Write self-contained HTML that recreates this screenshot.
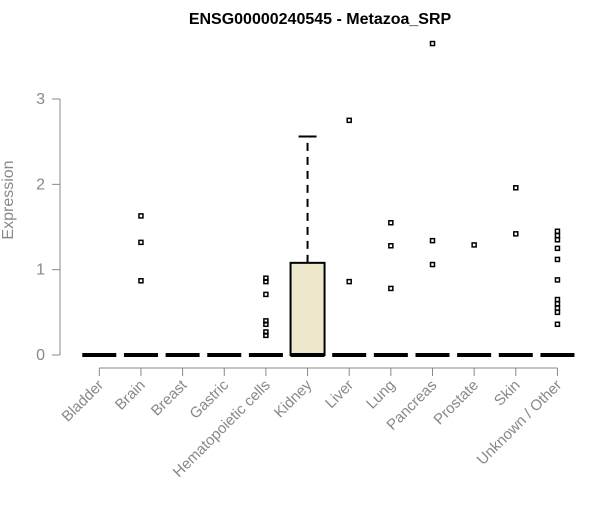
<!DOCTYPE html>
<html><head><meta charset="utf-8"><style>
body{margin:0;background:#fff;font-family:"Liberation Sans",Arial,sans-serif}
svg text{font-family:"Liberation Sans",Arial,sans-serif}
</style></head><body>
<svg id="chart" width="600" height="500" xmlns="http://www.w3.org/2000/svg">
<text x="320" y="24" text-anchor="middle" font-weight="bold" font-size="16" fill="#000">ENSG00000240545 - Metazoa_SRP</text>
<text transform="translate(13,200) rotate(-90)" text-anchor="middle" font-size="16" fill="#888">Expression</text>
<g id="yaxis"></g>
<g id="xaxis"></g>
<g id="marks"></g>
</svg>
<script>
const categories=["Bladder","Brain","Breast","Gastric","Hematopoietic cells","Kidney","Liver","Lung","Pancreas","Prostate","Skin","Unknown / Other"];
const q1=[0,0,0,0,0,0,0,0,0,0,0,0];
const medians=[0,0,0,0,0,0,0,0,0,0,0,0];
const q3=[0,0,0,0,0,1.08,0,0,0,0,0,0];
const whiskerHigh=[0,0,0,0,0,2.56,0,0,0,0,0,0];
const outliers=[[],[1.63,1.32,0.87],[],[],[0.9,0.86,0.71,0.40,0.36,0.27,0.23],[],[2.75,0.86],[1.55,1.28,0.78],[3.65,1.34,1.06],[1.29],[1.96,1.42],[1.45,1.40,1.35,1.25,1.12,0.88,0.65,0.60,0.55,0.50,0.36]];
const yTicks=[0,1,2,3];
const NS="http://www.w3.org/2000/svg";
const y=v=>355-v*85.33;
const x=i=>99.3+i*41.65;
function mk(p,t,a){const e=document.createElementNS(NS,t);for(const k in a)e.setAttribute(k,a[k]);p.appendChild(e);return e;}
const ya=document.getElementById('yaxis'),xa=document.getElementById('xaxis'),m=document.getElementById('marks');
const yl=mk(ya,'line',{x1:60,x2:60,y1:y(3),y2:y(0),stroke:'#888'});


yTicks.forEach(t=>{
 const l=mk(ya,'line',{x1:52,x2:60,y1:y(t),y2:y(t),stroke:'#888'});
 
 
 const tx=mk(ya,'text',{x:45,y:y(t)+5,'text-anchor':'end','font-size':16,fill:'#888'});tx.textContent=t;
 
 
});
const xl=mk(xa,'line',{x1:x(0),x2:x(11),y1:368,y2:368,stroke:'#888'});


categories.forEach((c,i)=>{
 const l=mk(xa,'line',{x1:x(i),x2:x(i),y1:368,y2:376,stroke:'#888'});
 
 
 const tx=mk(xa,'text',{transform:`translate(${x(i)+5},386) rotate(-45)`,'text-anchor':'end','font-size':15,fill:'#888'});tx.textContent=c;
 
 
 const g=mk(m,'g',{});
 
 
 const w=17;
 if(whiskerHigh[i]>q3[i]){
  mk(g,'line',{x1:x(i),x2:x(i),y1:y(q3[i]),y2:y(whiskerHigh[i]),stroke:'#000','stroke-width':2,'stroke-dasharray':'8,6'});
  mk(g,'line',{x1:x(i)-9,x2:x(i)+9,y1:y(whiskerHigh[i]),y2:y(whiskerHigh[i]),stroke:'#000','stroke-width':2});
 }
 if(q3[i]>q1[i]) mk(g,'rect',{x:x(i)-w,y:y(q3[i]),width:2*w,height:y(q1[i])-y(q3[i]),fill:'#ede7cb',stroke:'#000','stroke-width':2});
 mk(g,'line',{x1:x(i)-w,x2:x(i)+w,y1:y(medians[i]),y2:y(medians[i]),stroke:'#000','stroke-width':4});
 outliers[i].forEach(v=>{
  const r=mk(g,'rect',{x:x(i)-2,y:y(v)-2,width:4,height:4,fill:'none',stroke:'#000','stroke-width':1.5});
  
  
 });
});
</script>
</body></html>
